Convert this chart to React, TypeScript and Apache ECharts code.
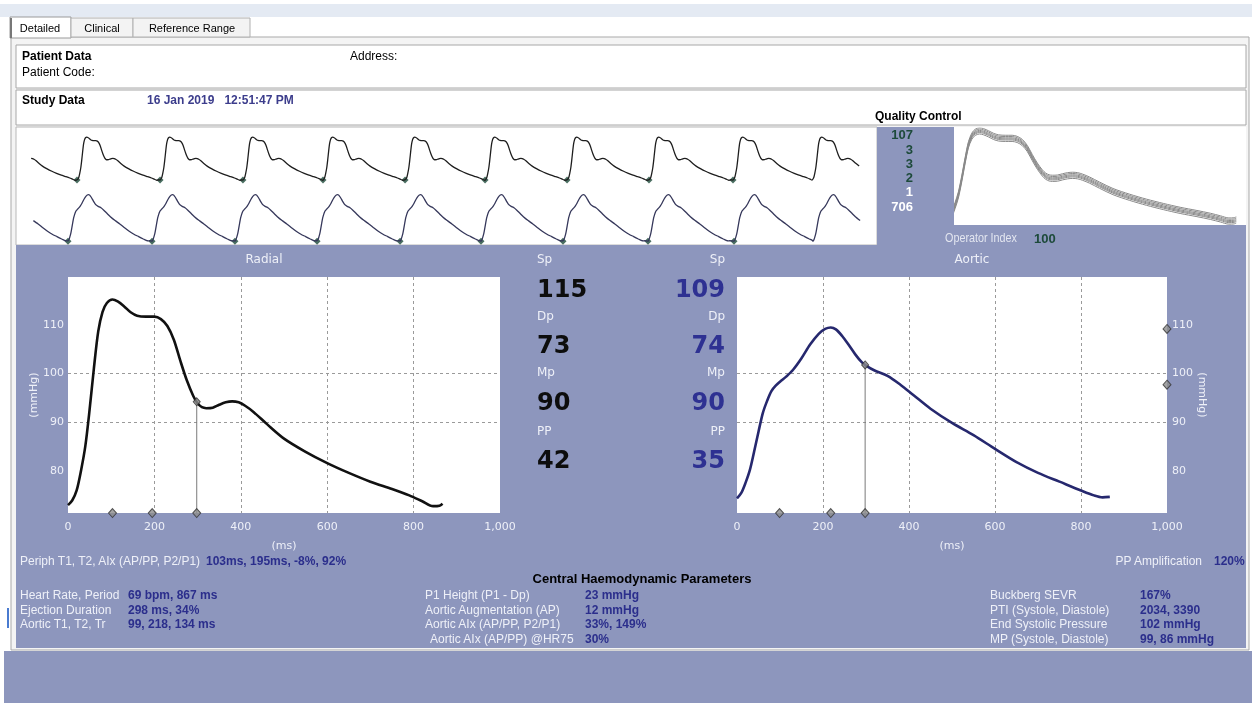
import React, { useEffect, useRef } from "react";
import * as echarts from "echarts";

// ---------- data ----------
const xTickStep = 200;
const yTickValues = [80, 90, 100, 110];

const radialTimes = [0, 10, 20, 30, 40, 50, 60, 70, 80, 90, 103, 115, 130, 145, 160, 180, 200, 215, 230, 245, 260, 275, 290, 300, 310, 320, 335, 350, 365, 380, 395, 410, 430, 460, 500, 550, 600, 650, 700, 750, 790, 820, 845, 860, 867];
const radialValues = [73.0, 74.0, 76.0, 80.0, 85.0, 92.5, 101.0, 108.5, 112.5, 114.3, 115.0, 114.6, 113.6, 112.4, 111.7, 111.5, 111.5, 111.0, 109.6, 106.8, 102.5, 98.5, 95.3, 93.8, 93.0, 92.8, 92.9, 93.5, 94.0, 94.2, 94.0, 93.3, 92.0, 89.6, 86.6, 83.9, 81.6, 79.6, 77.8, 76.3, 75.0, 73.8, 72.8, 72.9, 73.3];

const aorticTimes = [0, 10, 20, 30, 40, 50, 60, 70, 80, 90, 100, 115, 130, 150, 170, 190, 205, 218, 230, 245, 260, 275, 290, 300, 320, 350, 380, 410, 450, 500, 550, 600, 650, 700, 750, 800, 830, 850, 867];
const aorticValues = [74.4, 75.5, 77.6, 80.2, 84.0, 88.0, 91.8, 94.3, 96.3, 97.4, 98.2, 99.3, 100.6, 103.0, 105.8, 108.0, 109.0, 109.3, 108.9, 107.5, 105.7, 103.8, 102.2, 101.5, 100.5, 99.4, 97.6, 95.5, 92.7, 89.8, 87.3, 84.5, 81.8, 79.6, 77.8, 76.0, 75.0, 74.6, 74.7];

const radialMarkersMs = [103, 195];
const aorticMarkersMs = [99, 218];
const ejectionMs = 298;
const aorticEdgeMarkers = [109, 97.6];

const periodMs = 867;
const stripRadialOnsets = [499, 1380, 2260, 3109, 3980, 4829, 5699, 6569, 7460, 8299];
const stripAorticOnsets = [403, 1295, 2175, 3046, 3927, 4786, 5656, 6558, 7471, 8309];
const stripRadialEnd = 8808;
const stripAorticEnd = 8840;
const qcOffsets = [-1.4, -0.7, -0.2, 0.3, 0.9, 1.5];

const qcNumbers = ["107", "3", "3", "2", "1", "706"];
const centralLabels = ["Sp", "Dp", "Mp", "PP"];
const radialCentral = ["115", "73", "90", "42"];
const aorticCentral = ["109", "74", "90", "35"];

const leftLabels = ["Heart Rate, Period", "Ejection Duration", "Aortic T1, T2, Tr"];
const leftValues = ["69 bpm, 867 ms", "298 ms, 34%", "99, 218, 134 ms"];
const midLabels = ["P1 Height (P1 - Dp)", "Aortic Augmentation (AP)", "Aortic AIx (AP/PP, P2/P1)", "Aortic AIx (AP/PP) @HR75"];
const midValues = ["23 mmHg", "12 mmHg", "33%, 149%", "30%"];
const rightLabels = ["Buckberg SEVR", "PTI (Systole, Diastole)", "End Systolic Pressure", "MP (Systole, Diastole)"];
const rightValues = ["167%", "2034, 3390", "102 mmHg", "99, 86 mmHg"];

// ---------- styling ----------
const PANEL = "#8d96bd";
const LABEL = "#eef0f8";
const BLUE = "#2b2e8c";
const GREEN = "#1d4a3a";
const ARIAL = '"Liberation Sans", Arial, sans-serif';
const TAHOMA = '"DejaVu Sans", Verdana, sans-serif';
const YMIN = 71.4;
const YMAX = 119.6;

function interp(ts: number[], vs: number[], t: number) {
  for (let i = 1; i < ts.length; i++) {
    if (t <= ts[i]) {
      const f = (t - ts[i - 1]) / (ts[i] - ts[i - 1]);
      return vs[i - 1] + f * (vs[i] - vs[i - 1]);
    }
  }
  return vs[vs.length - 1];
}

function buildStrip(ts: number[], vs: number[], onsets: number[], end: number) {
  const pts: number[][] = [];
  const first = onsets[0];
  ts.forEach((t, i) => {
    const x = first - periodMs + t;
    if (x >= 0) pts.push([x, vs[i]]);
  });
  onsets.forEach((on, k) => {
    const limit = k + 1 < onsets.length ? onsets[k + 1] : end;
    ts.forEach((t, i) => {
      if (on + t < limit) pts.push([on + t, vs[i]]);
    });
  });
  return pts;
}

function txt(text: string, x: number, y: number, o: any = {}) {
  return {
    type: "text",
    x,
    y,
    z: 50,
    silent: true,
    scaleX: o.sx ?? 1,
    style: {
      text,
      x: 0,
      y: 0,
      fill: o.fill ?? "#000",
      fontSize: o.size ?? 12,
      fontFamily: o.family ?? ARIAL,
      fontWeight: o.weight ?? "normal",
      textAlign: o.align ?? "left",
      align: o.align ?? "left",
      textVerticalAlign: "middle",
      verticalAlign: "middle",
    },
  };
}

function rect(x: number, y: number, w: number, h: number, fill: string, stroke?: string) {
  return {
    type: "rect",
    z: -5,
    silent: true,
    shape: { x, y, width: w, height: h },
    style: { fill, stroke: stroke ?? null, lineWidth: stroke ? 1 : 0 },
  };
}

export default function App() {
  const ref = useRef<HTMLDivElement>(null);

  useEffect(() => {
    if (!ref.current) return;
    const chart = echarts.init(ref.current, null, { renderer: "svg" });

    const radialData = radialTimes.map((t, i) => [t, radialValues[i]]);
    const aorticData = aorticTimes.map((t, i) => [t, aorticValues[i]]);
    const radialEd = interp(radialTimes, radialValues, ejectionMs);
    const aorticEd = interp(aorticTimes, aorticValues, ejectionMs);

    const stripTop = buildStrip(radialTimes, radialValues, stripRadialOnsets, stripRadialEnd);
    const stripBottom = buildStrip(aorticTimes, aorticValues, stripAorticOnsets, stripAorticEnd);

    const graphics: any[] = [];
    // backgrounds
    graphics.push(rect(0, 0, 1252, 705, "#ffffff"));
    graphics.push(rect(0, 4, 1252, 13, "#e4eaf3"));
    graphics.push(rect(11, 37, 1238, 613, "#f4f4f4", "#a9a9a9"));
    graphics.push(rect(10, 17, 61, 21, "#ffffff", "#9a9a9a"));
    graphics.push(rect(71, 18, 62, 19, "#f3f3f3", "#b0b0b0"));
    graphics.push(rect(133, 18, 117, 19, "#f3f3f3", "#b0b0b0"));
    graphics.push({ type: "line", z: -4, silent: true, shape: { x1: 11, y1: 18, x2: 11, y2: 38 }, style: { stroke: "#777", lineWidth: 2 } });
    graphics.push(rect(16, 45, 1230, 43, "#ffffff", "#a8a8a8"));
    graphics.push(rect(16, 90, 1230, 35, "#ffffff", "#a8a8a8"));
    graphics.push(rect(16, 127, 861, 118, "#ffffff", "#b8b8b8"));
    graphics.push(rect(877, 127, 369, 118, PANEL));
    graphics.push(rect(954, 127, 292, 98, "#ffffff"));
    graphics.push(rect(16, 245, 1230, 403, PANEL));
    graphics.push(rect(4, 651, 1248, 52, PANEL));
    graphics.push(rect(7, 608, 2, 20, "#4a7bd0"));

    // header texts
    graphics.push(txt("Detailed", 40, 28, { size: 11, align: "center" }));
    graphics.push(txt("Clinical", 102, 28, { size: 11, align: "center" }));
    graphics.push(txt("Reference Range", 192, 28, { size: 11, align: "center" }));
    graphics.push(txt("Patient Data", 22, 56, { weight: "bold" }));
    graphics.push(txt("Patient Code:", 22, 72));
    graphics.push(txt("Address:", 350, 56));
    graphics.push(txt("Study Data", 22, 100, { weight: "bold" }));
    graphics.push(txt("16 Jan 2019   12:51:47 PM", 147, 100, { weight: "bold", fill: "#3c3d8c" }));
    graphics.push(txt("Quality Control", 875, 116, { weight: "bold" }));

    // QC numbers
    qcNumbers.forEach((n, i) => {
      graphics.push(txt(n, 913, 134.7 + i * 14.3, { weight: "bold", size: 13, align: "right", fill: i < 4 ? GREEN : "#ffffff" }));
    });
    graphics.push(txt("Operator Index", 945, 238, { fill: "#e3e6f0", size: 12, sx: 0.9 }));
    graphics.push(txt("100", 1034, 238, { weight: "bold", size: 13, fill: GREEN }));

    // chart titles
    graphics.push(txt("Radial", 264, 259, { fill: LABEL, size: 12, family: TAHOMA, align: "center" }));
    graphics.push(txt("Aortic", 972, 259, { fill: LABEL, size: 12, family: TAHOMA, align: "center" }));

    // central numbers
    const labelYs = [259, 316, 372, 431];
    const numYs = [289, 345, 402, 460];
    centralLabels.forEach((l, i) => {
      graphics.push(txt(l, 537, labelYs[i], { fill: LABEL, size: 12, family: TAHOMA }));
      graphics.push(txt(l, 725, labelYs[i], { fill: LABEL, size: 12, family: TAHOMA, align: "right" }));
      graphics.push(txt(radialCentral[i], 537, numYs[i], { fill: "#0d0d0d", size: 24, weight: "bold", family: TAHOMA }));
      graphics.push(txt(aorticCentral[i], 725, numYs[i], { fill: "#2e3192", size: 24, weight: "bold", family: TAHOMA, align: "right" }));
    });

    // bottom parameter texts
    graphics.push(txt("Periph T1, T2, AIx (AP/PP, P2/P1)", 20, 561, { fill: LABEL }));
    graphics.push(txt("103ms, 195ms, -8%, 92%", 206, 561, { fill: BLUE, weight: "bold" }));
    graphics.push(txt("PP Amplification", 1202, 561, { fill: LABEL, align: "right" }));
    graphics.push(txt("120%", 1214, 561, { fill: BLUE, weight: "bold" }));
    graphics.push(txt("Central Haemodynamic Parameters", 642, 578, { weight: "bold", size: 13, align: "center" }));
    const rowYs = [595, 609.5, 624, 638.5];
    leftLabels.forEach((l, i) => {
      graphics.push(txt(l, 20, rowYs[i], { fill: LABEL }));
      graphics.push(txt(leftValues[i], 128, rowYs[i], { fill: BLUE, weight: "bold" }));
    });
    midLabels.forEach((l, i) => {
      graphics.push(txt(l, i === 3 ? 430 : 425, rowYs[i], { fill: LABEL }));
      graphics.push(txt(midValues[i], 585, rowYs[i], { fill: BLUE, weight: "bold" }));
    });
    rightLabels.forEach((l, i) => {
      graphics.push(txt(l, 990, rowYs[i], { fill: LABEL }));
      graphics.push(txt(rightValues[i], 1140, rowYs[i], { fill: BLUE, weight: "bold" }));
    });

    const gridLine = { show: true, showMinLine: false, showMaxLine: false, lineStyle: { color: "#9a9a9a", type: [3, 3], width: 1 } };
    const msAxis = (gi: number) => ({
      type: "value",
      gridIndex: gi,
      min: 0,
      max: 1000,
      interval: xTickStep,
      axisLine: { show: false },
      axisTick: { show: false },
      axisLabel: { color: LABEL, fontSize: 11, fontFamily: TAHOMA, margin: 8, formatter: (v: number) => v.toLocaleString("en-US") },
      splitLine: gridLine,
      name: "(ms)",
      nameLocation: "middle",
      nameGap: 27,
      nameTextStyle: { color: LABEL, fontSize: 11, fontFamily: TAHOMA },
    });
    const mmAxis = (gi: number, right: boolean) => ({
      type: "value",
      gridIndex: gi,
      position: right ? "right" : "left",
      min: YMIN,
      max: YMAX,
      axisLine: { show: false },
      axisTick: { show: false, customValues: yTickValues },
      axisLabel: { color: LABEL, fontSize: 11, fontFamily: TAHOMA, margin: right ? 5 : 4, customValues: yTickValues },
      splitLine: gridLine,
      name: "(mmHg)",
      nameLocation: "middle",
      nameRotate: right ? -90 : 90,
      nameGap: right ? 28 : 28,
      nameTextStyle: { color: LABEL, fontSize: 11, fontFamily: TAHOMA },
    });
    const hidden = (gi: number, min: number, max: number) => ({ type: "value", gridIndex: gi, min, max, show: false, splitLine: { show: false } });

    const diamond = { symbol: "diamond", symbolSize: [8, 9], itemStyle: { color: "#8c8c8c", borderColor: "#333", borderWidth: 1 } };

    const series: any[] = [
      { type: "line", xAxisIndex: 0, yAxisIndex: 0, data: radialData, smooth: 0.3, symbol: "none", lineStyle: { color: "#111", width: 2.6 }, z: 5 },
      { type: "line", xAxisIndex: 0, yAxisIndex: 0, data: [[ejectionMs, YMIN], [ejectionMs, radialEd]], symbol: "none", lineStyle: { color: "#7a7a7a", width: 1 }, z: 4 },
      { type: "scatter", xAxisIndex: 0, yAxisIndex: 0, clip: false, data: [...radialMarkersMs, ejectionMs].map((t) => [t, YMIN]), ...diamond, z: 6 },
      { type: "scatter", xAxisIndex: 0, yAxisIndex: 0, clip: false, data: [[ejectionMs, radialEd]], ...diamond, symbolSize: [7, 8], z: 6 },

      { type: "line", xAxisIndex: 1, yAxisIndex: 1, data: aorticData, smooth: 0.3, symbol: "none", lineStyle: { color: "#26286e", width: 2.6 }, z: 5 },
      { type: "line", xAxisIndex: 1, yAxisIndex: 1, data: [[ejectionMs, YMIN], [ejectionMs, aorticEd]], symbol: "none", lineStyle: { color: "#7a7a7a", width: 1 }, z: 4 },
      { type: "scatter", xAxisIndex: 1, yAxisIndex: 1, clip: false, data: [...aorticMarkersMs, ejectionMs].map((t) => [t, YMIN]).concat(aorticEdgeMarkers.map((v) => [1000, v])), ...diamond, z: 6 },
      { type: "scatter", xAxisIndex: 1, yAxisIndex: 1, clip: false, data: [[ejectionMs, aorticEd]], ...diamond, symbolSize: [7, 8], z: 6 },

      { type: "line", xAxisIndex: 2, yAxisIndex: 2, data: stripTop, smooth: 0.2, symbol: "none", lineStyle: { color: "#1e1e1e", width: 1.3 } },
      { type: "scatter", xAxisIndex: 2, yAxisIndex: 2, clip: false, data: stripRadialOnsets.slice(0, -1).map((t) => [t, radialValues[0]]), symbol: "diamond", symbolSize: 7, itemStyle: { color: GREEN } },
      { type: "line", xAxisIndex: 3, yAxisIndex: 3, data: stripBottom, smooth: 0.2, symbol: "none", lineStyle: { color: "#35375a", width: 1.3 } },
      { type: "scatter", xAxisIndex: 3, yAxisIndex: 3, clip: false, data: stripAorticOnsets.slice(0, -1).map((t) => [t, aorticValues[0]]), symbol: "diamond", symbolSize: 7, itemStyle: { color: GREEN } },
    ];
    qcOffsets.forEach((off) => {
      series.push({ type: "line", xAxisIndex: 4, yAxisIndex: 4, data: radialTimes.map((t, i) => [t, radialValues[i] + off]), smooth: 0.3, symbol: "none", lineStyle: { color: "#8a8a8a", width: 1 } });
    });

    chart.setOption({
      animation: false,
      graphic: { elements: graphics },
      grid: [
        { left: 68, top: 277, width: 432, height: 236, show: true, backgroundColor: "#ffffff", borderWidth: 0, outerBoundsMode: "none" },
        { left: 737, top: 277, width: 430, height: 236, show: true, backgroundColor: "#ffffff", borderWidth: 0, outerBoundsMode: "none" },
        { left: 30, top: 127, width: 840, height: 60, outerBoundsMode: "none" },
        { left: 30, top: 187, width: 840, height: 58, outerBoundsMode: "none" },
        { left: 955, top: 128, width: 290, height: 97, outerBoundsMode: "none" },
      ],
      xAxis: [msAxis(0), msAxis(1), hidden(2, 0, 8914), hidden(3, 0, 8914), hidden(4, 30, 893)],
      yAxis: [mmAxis(0, false), mmAxis(1, true), hidden(2, 66.2, 124.8), hidden(3, 71.5, 115), hidden(4, 71, 116.4)],
      series,
    });

    return () => chart.dispose();
  }, []);

  return <div ref={ref} style={{ position: "fixed", left: 0, top: 0, width: 1252, height: 705 }} />;
}
